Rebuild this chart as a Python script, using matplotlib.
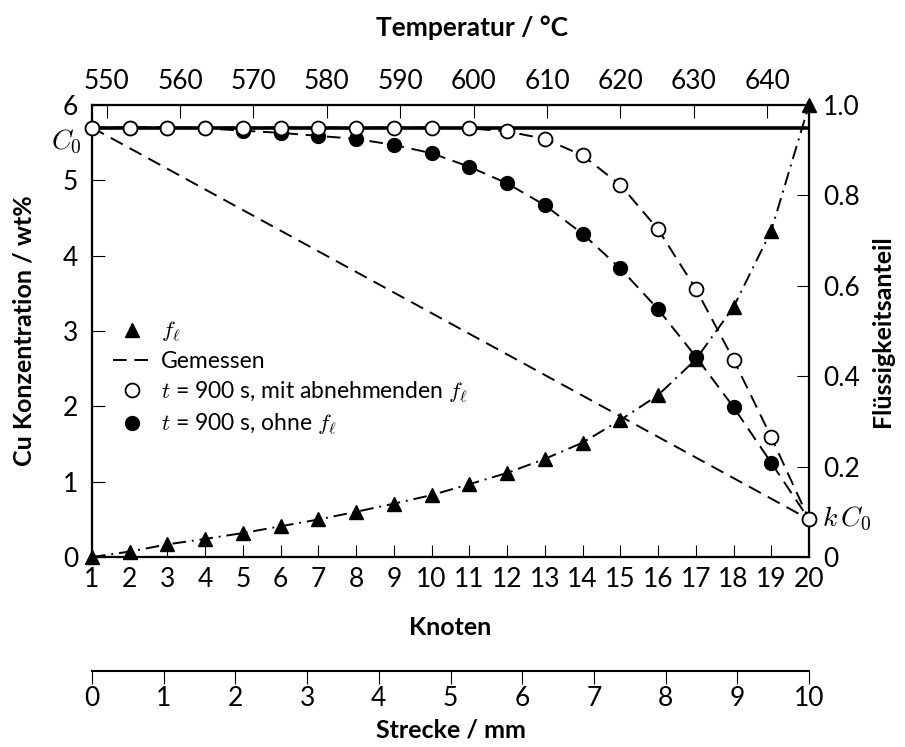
import numpy as np
import matplotlib.pyplot as plt
from matplotlib.lines import Line2D
from matplotlib.ticker import FuncFormatter

# Werte
knoten = np.arange(1, 21)
c_mit = [5.70, 5.70, 5.70, 5.70, 5.70, 5.70, 5.70, 5.70, 5.70, 5.70,
         5.69, 5.65, 5.55, 5.33, 4.94, 4.35, 3.56, 2.62, 1.59, 0.50]
c_ohne = [5.70, 5.70, 5.70, 5.69, 5.66, 5.63, 5.59, 5.55, 5.47, 5.36,
          5.18, 4.96, 4.67, 4.29, 3.83, 3.29, 2.66, 1.99, 1.25, 0.50]
f_l = [0.0, 0.012, 0.028, 0.040, 0.053, 0.068, 0.083, 0.100, 0.118, 0.137,
       0.161, 0.186, 0.217, 0.253, 0.303, 0.358, 0.437, 0.553, 0.722, 1.0]
gemessen_x = [1, 20]
gemessen_c = [5.7, 0.5]
C0 = 5.7
kC0 = 0.5
temp_ticks = [550, 560, 570, 580, 590, 600, 610, 620, 630, 640]
temp_lim = (548.0, 645.7)
strecke_ticks = list(range(0, 11))

plt.rcParams['font.family'] = ['Lato', 'DejaVu Sans']
plt.rcParams['mathtext.fontset'] = 'cm'

FS = 19
DASH = (7, 4)
DASHDOT = (7, 3, 1, 3)

fig = plt.figure(figsize=(9.05, 7.47), dpi=100)
ax = fig.add_axes([92/905, 1-557/747, 717/905, 452/747])
ax2 = ax.twinx()
ax_t = ax.twiny()

# Flüssigkeitsanteil (rechte Achse)
ax2.plot(knoten, f_l, color='k', lw=1.4, dashes=DASHDOT, marker='^',
         ms=10, clip_on=False, zorder=3)
ax2.set_ylim(0, 1)

ax.set_zorder(ax2.zorder + 1)
ax.patch.set_visible(False)

ax.plot([1, 20], [C0, C0], color='k', lw=2.6, solid_capstyle='butt', zorder=2)
ax.plot(gemessen_x, gemessen_c, color='k', lw=1.4, dashes=DASH, zorder=2)
ax.plot(knoten, c_ohne, color='k', lw=1.4, dashes=DASH, marker='o', ms=10,
        mfc='k', clip_on=False, zorder=3)
ax.plot(knoten, c_mit, color='k', lw=1.4, dashes=DASH, marker='o', ms=10,
        mfc='white', mew=1.3, clip_on=False, zorder=4)

ax.set_xlim(1, 20)
ax.set_ylim(0, 6)
ax.set_xticks(knoten)
ax.set_yticks(range(0, 7))
ax_t.set_xlim(*temp_lim)
ax_t.set_xticks(temp_ticks)
ax2.set_yticks([0, 0.2, 0.4, 0.6, 0.8, 1.0])
ax2.yaxis.set_major_formatter(FuncFormatter(lambda v, p: '0' if v == 0 else f'{v:.1f}'))

for a in (ax, ax2, ax_t):
    for s in a.spines.values():
        s.set_linewidth(1.5)
ax.tick_params(axis='both', direction='in', length=9, width=0.8, labelsize=FS)
ax.tick_params(axis='x', pad=7)
ax.tick_params(axis='y', pad=10)
ax2.tick_params(axis='y', direction='in', length=9, width=0.8, labelsize=FS, pad=10)
ax_t.tick_params(axis='x', direction='in', length=9, width=0.8, labelsize=FS, pad=8)

ax.annotate(r'$C_0$', xy=(0, C0), xycoords=('axes fraction', 'data'),
            xytext=(-7, -10), textcoords='offset points', ha='right', va='center',
            fontsize=FS + 1)
ax.annotate(r'$k\,C_0$', xy=(1, kC0), xycoords=('axes fraction', 'data'),
            xytext=(9, 0), textcoords='offset points', ha='left', va='center',
            fontsize=FS + 1)

ax.set_xlabel('Knoten', fontsize=18, fontweight='bold')
ax.xaxis.set_label_coords(0.5, -0.157)
ax.xaxis.label.set_va('center')
ax.set_ylabel('Cu Konzentration / wt%', fontsize=18, fontweight='bold')
ax.yaxis.set_label_coords(-0.095, 0.5)
ax.yaxis.label.set_va('center')
ax2.set_ylabel('Flüssigkeitsanteil', fontsize=18, fontweight='bold')
ax2.yaxis.set_label_coords(1.102, 0.5)
ax2.yaxis.label.set_va('center')
ax_t.set_xlabel('Temperatur / °C', fontsize=19, fontweight='bold')
ax_t.xaxis.set_label_coords(0.53, 1.170)
ax_t.xaxis.label.set_va('center')

handles = [
    Line2D([], [], ls='none', marker='^', ms=10, color='k'),
    Line2D([], [], color='k', lw=1.4, dashes=DASH),
    Line2D([], [], ls='none', marker='o', ms=10, mfc='white', mec='k', mew=1.3),
    Line2D([], [], ls='none', marker='o', ms=10, color='k'),
]
labels = [r'$f_\ell$', 'Gemessen',
          r'$t$ = 900 s, mit abnehmenden $f_\ell$',
          r'$t$ = 900 s, ohne $f_\ell$']
ax.legend(handles, labels, loc='center left', bbox_to_anchor=(0.029, 0.395),
          frameon=False, fontsize=16.5, handlelength=1.7, handletextpad=0.4,
          borderpad=0, borderaxespad=0, labelspacing=0.3)

# Strecke-Achse
ax_s = fig.add_axes([92/905, 1-671/747, 717/905, 1e-4])
for k in ('top', 'left', 'right'):
    ax_s.spines[k].set_visible(False)
ax_s.spines['bottom'].set_linewidth(1.5)
ax_s.set_yticks([])
ax_s.patch.set_visible(False)
ax_s.set_xlim(0, 10)
ax_s.set_xticks(strecke_ticks)
ax_s.tick_params(axis='x', direction='out', length=9, width=0.8, labelsize=FS, pad=2)
fig.text((92 + 809) / 2 / 905, 1 - 730/747, 'Strecke / mm', ha='center', va='center',
         fontsize=18, fontweight='bold')

fig.savefig('out.png', dpi=100)
